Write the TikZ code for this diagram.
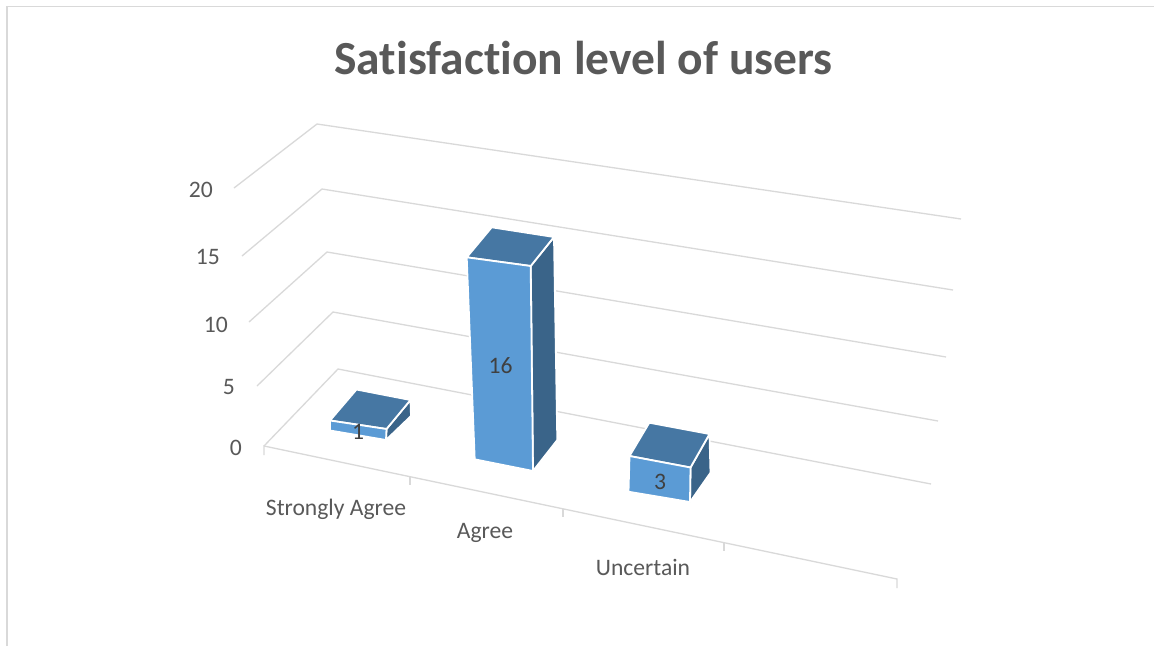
\documentclass[tikz,border=0pt]{standalone}
\usepackage{fontspec}
\setmainfont{Carlito}[Ligatures=NoCommon]
\definecolor{gridc}{HTML}{D9D9D9}
\definecolor{txt}{HTML}{595959}
\definecolor{lbl}{HTML}{404040}
\definecolor{frontc}{HTML}{5B9BD5}
\definecolor{topc}{HTML}{4677A3}
\definecolor{sidec}{HTML}{3A6489}
\begin{document}
\begin{tikzpicture}[x=1pt,y=-1pt,
  gridline/.style={draw=gridc,line width=1.3pt},
  frontface/.style={fill=frontc,draw=white,line width=1.8pt,line join=round},
  topface/.style={fill=topc,draw=white,line width=1.8pt,line join=round},
  sideface/.style={fill=sidec,draw=white,line width=1.8pt,line join=round},
  axlbl/.style={text=txt,font=\fontsize{23.6}{24}\selectfont,inner sep=0pt},
  datalbl/.style={text=lbl,font=\fontsize{23.6}{24}\selectfont,inner sep=0pt},
  titlelbl/.style={text=txt,font=\fontsize{47.5}{48}\selectfont\bfseries,inner sep=0pt}]
\useasboundingbox (0,0) rectangle (1154,646);
\fill[white] (0,0) rectangle (1154,646);
% chart frame
\draw[draw=gridc,line width=1.2pt] (7,646) -- (7,6.5) -- (1154,6.5);
% title
\node[titlelbl,anchor=base] (title) at (583.5,74) {Satisfact\kern0pt ion level of users};
% gridlines (walls)
\draw[gridline] (234,188) -- (317,124) -- (961,219);
\draw[gridline] (242,256) -- (322,189) -- (953,290);
\draw[gridline] (249,322) -- (327,252) -- (946,357);
\draw[gridline] (257,386) -- (333,312) -- (938,421);
\draw[gridline] (264,446) -- (338,369) -- (931,484);
% floor front edge and ticks
\draw[gridline] (264,455) -- (264,446) -- (897,579) -- (897,588);
\draw[gridline] (410,476.5) -- (410,485);
\draw[gridline] (563,508.5) -- (563,517);
\draw[gridline] (724,542) -- (724,551);
% axis labels
\node[axlbl,anchor=east] (y20) at (213,190) {20};
\node[axlbl,anchor=east] (y15) at (220,257) {15};
\node[axlbl,anchor=east] (y10) at (228,325) {10};
\node[axlbl,anchor=east] (y5) at (235,387) {5};
\node[axlbl,anchor=east] (y0) at (242,448) {0};
\node[axlbl,anchor=base] (c1) at (336,515) {Strongly Agree};
\node[axlbl,anchor=base] (c2) at (485,538) {Agree};
\node[axlbl,anchor=base] (c3) at (643,575) {Uncertain};
% bar 1 (value 1)
\draw[sideface] (386.5,429) -- (410.5,400) -- (411,416) -- (386,440) -- cycle;
\draw[topface] (330,420.5) -- (356.5,389.5) -- (410.5,400) -- (386.5,429) -- cycle;
\draw[frontface] (330,420.5) -- (386.5,429) -- (386,440) -- (330,430.5) -- cycle;
\node[datalbl] (v1) at (358,432) {1};
% bar 2 (value 16)
\draw[sideface] (530.7,266) -- (554,237) -- (557.3,440) -- (533,471) -- cycle;
\draw[topface] (466.7,257.3) -- (491.7,227.3) -- (554,237) -- (530.7,266) -- cycle;
\draw[frontface] (466.7,257.3) -- (530.7,266) -- (533,471) -- (474.7,459.3) -- cycle;
\node[datalbl] (v2) at (500.5,366) {16};
% bar 3 (value 3)
\draw[sideface] (690.5,467.5) -- (709.5,434) -- (710.5,472.7) -- (690,502) -- cycle;
\draw[topface] (629.5,456) -- (649.3,422.7) -- (709.5,434) -- (690.5,467.5) -- cycle;
\draw[frontface] (629.5,456) -- (690.5,467.5) -- (690,502) -- (628.5,491.7) -- cycle;
\node[datalbl] (v3) at (660,482) {3};
\end{tikzpicture}
\end{document}
